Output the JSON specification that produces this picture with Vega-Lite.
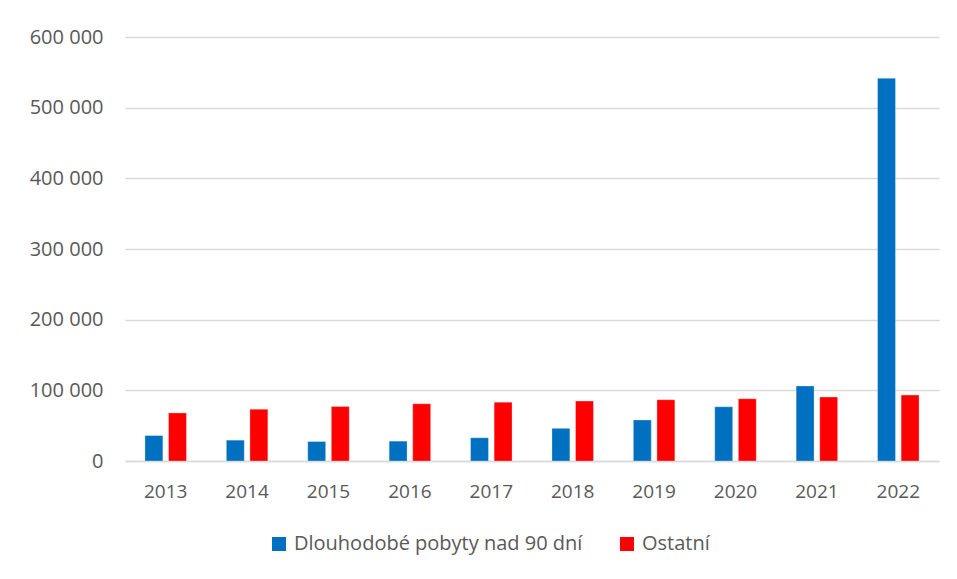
{
  "$schema": "https://vega.github.io/schema/vega-lite/v6.json",
  "autosize": {"type": "none"},
  "width": 814,
  "height": 424,
  "padding": {"left": 125, "top": 37, "right": 18, "bottom": 118},
  "background": "white",
  "config": {
    "locale": {"number": {"decimal": ",", "thousands": " ", "grouping": [3], "currency": ["", " Kč"]}},
    "view": {"stroke": null},
    "font": "Open Sans",
    "axis": {"labelFont": "Open Sans", "labelColor": "#595959", "labelFontSize": 19}
  },
  "data": {
    "values": [
      {"rok": "2013", "typ": "Dlouhodobé pobyty nad 90 dní", "pocet": 36000},
      {"rok": "2013", "typ": "Ostatní", "pocet": 68000},
      {"rok": "2014", "typ": "Dlouhodobé pobyty nad 90 dní", "pocet": 29500},
      {"rok": "2014", "typ": "Ostatní", "pocet": 73300},
      {"rok": "2015", "typ": "Dlouhodobé pobyty nad 90 dní", "pocet": 27600},
      {"rok": "2015", "typ": "Ostatní", "pocet": 77100},
      {"rok": "2016", "typ": "Dlouhodobé pobyty nad 90 dní", "pocet": 28100},
      {"rok": "2016", "typ": "Ostatní", "pocet": 81000},
      {"rok": "2017", "typ": "Dlouhodobé pobyty nad 90 dní", "pocet": 32900},
      {"rok": "2017", "typ": "Ostatní", "pocet": 83300},
      {"rok": "2018", "typ": "Dlouhodobé pobyty nad 90 dní", "pocet": 46200},
      {"rok": "2018", "typ": "Ostatní", "pocet": 84800},
      {"rok": "2019", "typ": "Dlouhodobé pobyty nad 90 dní", "pocet": 58100},
      {"rok": "2019", "typ": "Ostatní", "pocet": 86700},
      {"rok": "2020", "typ": "Dlouhodobé pobyty nad 90 dní", "pocet": 76700},
      {"rok": "2020", "typ": "Ostatní", "pocet": 88100},
      {"rok": "2021", "typ": "Dlouhodobé pobyty nad 90 dní", "pocet": 106200},
      {"rok": "2021", "typ": "Ostatní", "pocet": 90500},
      {"rok": "2022", "typ": "Dlouhodobé pobyty nad 90 dní", "pocet": 541600},
      {"rok": "2022", "typ": "Ostatní", "pocet": 93300}
    ]
  },
  "mark": {"type": "bar", "stroke": "white", "strokeOpacity": 0.3, "strokeWidth": 1},
  "encoding": {
    "x": {
      "field": "rok", "type": "nominal", "title": null,
      "scale": {"paddingInner": 0.49, "paddingOuter": 0.245},
      "axis": {"labelAngle": 0, "ticks": false, "domainColor": "#d9d9d9", "domainWidth": 1.5, "labelPadding": 21}
    },
    "xOffset": {"field": "typ", "type": "nominal", "scale": {"paddingInner": 0.24}},
    "y": {
      "field": "pocet", "type": "quantitative", "title": null,
      "scale": {"domain": [0, 600000], "nice": false},
      "axis": {"values": [0, 100000, 200000, 300000, 400000, 500000, 600000], "format": ",d", "domain": false, "ticks": false, "labelPadding": 22, "labelFontSize": 20, "gridColor": "#d9d9d9", "gridWidth": 1.5}
    },
    "color": {
      "field": "typ", "type": "nominal",
      "scale": {"domain": ["Dlouhodobé pobyty nad 90 dní", "Ostatní"], "range": ["#0070c0", "#ff0000"]},
      "legend": {
        "title": null, "orient": "none", "legendX": 144, "legendY": 497, "direction": "horizontal",
        "symbolType": "square", "symbolSize": 196, "symbolStrokeWidth": 0, "symbolOpacity": 1,
        "labelFont": "Open Sans", "labelFontSize": 20, "labelColor": "#595959", "labelLimit": 0,
        "columnPadding": 34, "labelOffset": 5
      }
    }
  }
}
